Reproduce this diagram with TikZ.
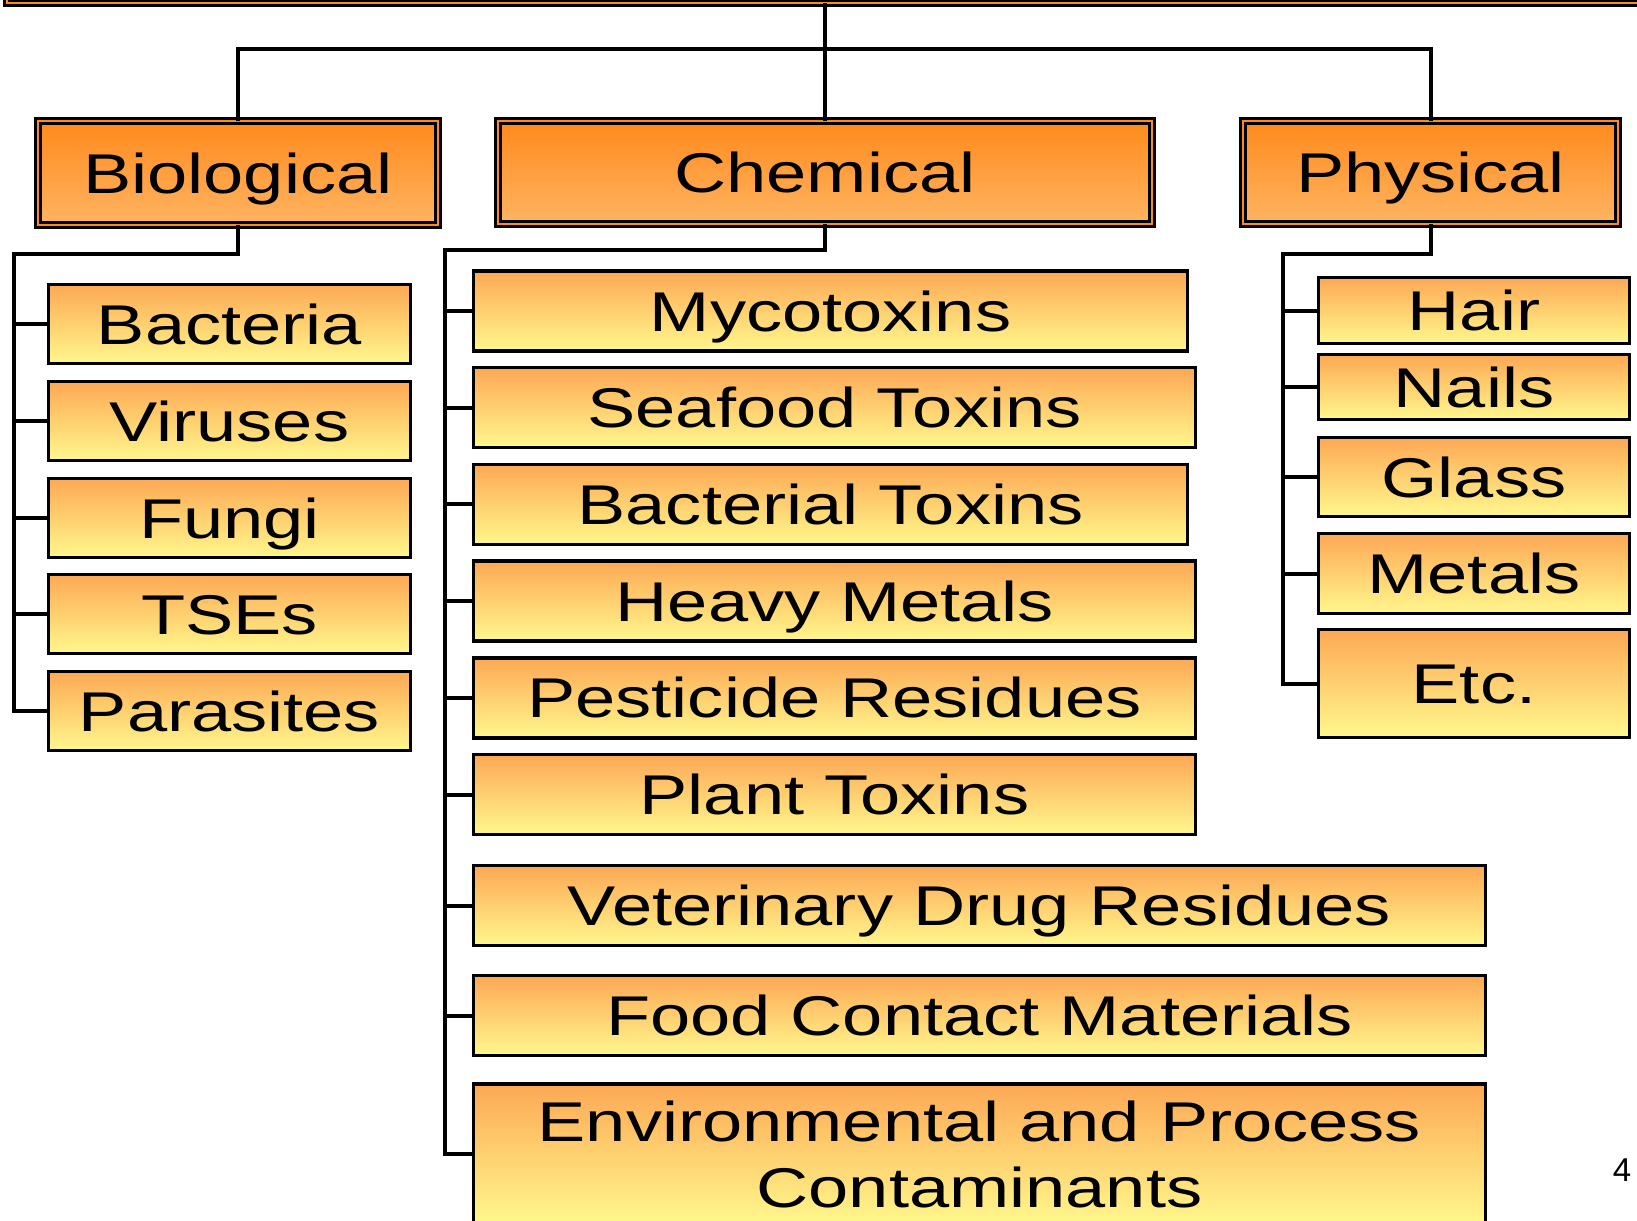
\documentclass[tikz,border=0pt]{standalone}
\usepackage{fontspec}
\setmainfont{Liberation Sans}[FakeStretch=1.29]
\newfontfamily\pagefont{Liberation Sans}
\usetikzlibrary{positioning}
\definecolor{hazarddark}{HTML}{FF8A1C}
\definecolor{hazardlight}{HTML}{FFB462}
\definecolor{itemtop}{HTML}{FDA855}
\definecolor{itembottom}{HTML}{FFF88C}

\begin{document}
\begin{tikzpicture}[x=1pt,y=-1pt,
  hazardbox/.style={draw=black,double=hazarddark,double distance=2pt,line width=3pt,top color=hazarddark,bottom color=hazardlight,inner sep=0pt,outer sep=0pt,minimum height=103pt,font=\fontsize{56}{66}\selectfont,text height=40pt,text depth=0pt},
  itembox/.style={draw=black,line width=3.5pt,top color=itemtop,bottom color=itembottom,inner sep=0pt,outer sep=0pt,anchor=west,font=\fontsize{56}{66}\selectfont,text height=40pt,text depth=0pt},
  link/.style={line width=4pt}]
  \useasboundingbox (0,0) rectangle (1637,1220);
  \clip (0,0) rectangle (1637,1220);
  % top level
  \node[hazardbox,minimum width=1700pt,minimum height=106pt] (root) at (857,-50) {};
  \node[hazardbox,minimum width=400pt] (bio) at (238,173) {Biological};
  \node[hazardbox,minimum width=654pt] (chem) at (825,172.5) {Chemical};
  \node[hazardbox,minimum width=375pt] (phys) at (1430.5,172.5) {Physical};
  \coordinate (hbus) at (825,49);
  \draw[link] (bio.north) |- (hbus) -| (phys.north);
  \draw[link] (chem.north) -- (chem.north |- root.south);
  % biological
  \foreach \name/\y/\txt in {bacteria/324/Bacteria,viruses/421/Viruses,fungi/518/Fungi,tses/614/TSEs,parasites/711/Parasites}
    \node[itembox,minimum width=362pt,minimum height=79pt] (\name) at (48.5,\y) {\txt};
  \coordinate (bbus) at (14,254);
  \draw[link] (bio.south) |- (bbus) |- (parasites.west);
  \foreach \n in {bacteria,viruses,fungi,tses}
    \draw[link] (bbus |- \n.west) -- (\n.west);
  % chemical
  \foreach \name/\y/\w/\txt in {myco/311/714/Mycotoxins,seafood/407.7/722/Seafood Toxins,bacttox/504.4/714/Bacterial Toxins,heavy/601.1/722/Heavy Metals,pest/697.8/722/Pesticide Residues,plant/794.5/722/Plant Toxins,vet/905.5/1012/Veterinary Drug Residues,contact/1015.5/1012/Food Contact Materials}
    \node[itembox,minimum width=\w pt,minimum height=80pt] (\name) at (473.5,\y) {\txt};
  \node[itembox,minimum width=1012pt,minimum height=140pt,align=center,text height=106pt,text depth=0pt] (env) at (473.5,1154) {Environmental and Process\\Contaminants};
  \coordinate (cbus) at (445,250);
  \draw[link] (chem.south) |- (cbus) |- (env.west);
  \foreach \n in {myco,seafood,bacttox,heavy,pest,plant,vet,contact}
    \draw[link] (cbus |- \n.west) -- (\n.west);
  % physical
  \foreach \name/\y/\h/\txt in {hair/310.5/66/Hair,nails/387/65/Nails,glass/477/79/Glass,metals/573.5/80/Metals,etc/683.5/108/Etc.}
    \node[itembox,minimum width=311pt,minimum height=\h pt] (\name) at (1318.5,\y) {\txt};
  \coordinate (pbus) at (1283,254);
  \draw[link] (phys.south) |- (pbus) |- (etc.west);
  \foreach \n in {hair,nails,glass,metals}
    \draw[link] (pbus |- \n.west) -- (\n.west);
  \node[font=\pagefont\fontsize{33}{36}\selectfont] (pagenum) at (1622,1170) {4};
\end{tikzpicture}
\end{document}
